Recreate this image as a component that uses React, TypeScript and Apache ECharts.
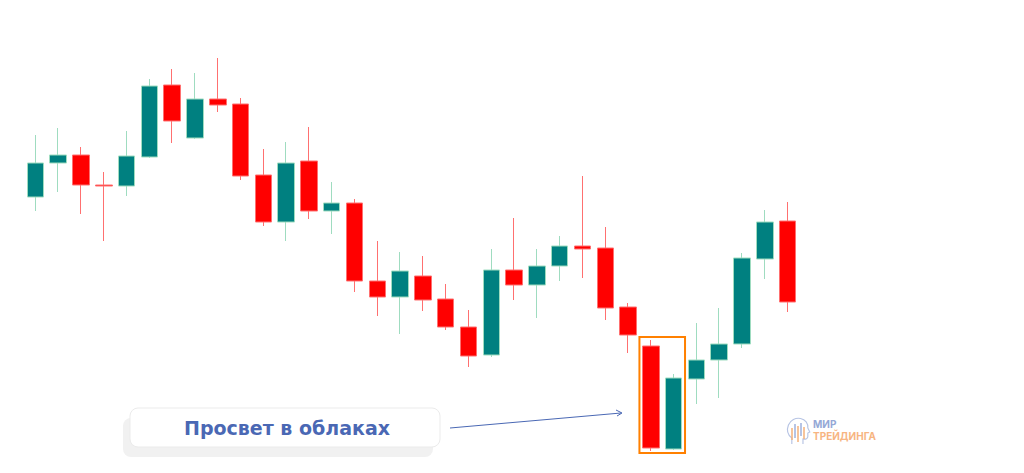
import React, { useEffect, useRef } from "react";
import * as echarts from "echarts";

// [open, close, low, high]
const categories = Array.from({ length: 34 }, (_, i) => String(i + 1));
const opens = [26.3, 29.7, 30.5, 27.5, 27.4, 30.3, 37.5, 32.2, 36.1, 35.6, 28.5, 23.8, 29.9, 24.9, 25.7, 17.9, 16.3, 18.4, 16.1, 13.3, 10.5, 19.0, 17.5, 19.4, 21.4, 21.2, 15.3, 11.4, 1.1, 8.1, 10.0, 11.6, 20.1, 23.9];
const closes = [29.7, 30.5, 27.5, 27.4, 30.4, 37.4, 33.9, 36.1, 35.5, 28.4, 23.8, 29.7, 24.9, 25.7, 17.9, 16.3, 18.9, 16.0, 13.3, 10.4, 19.0, 17.5, 19.4, 21.4, 21.1, 15.2, 12.5, 1.2, 8.2, 10.0, 11.6, 20.2, 23.8, 15.8];
const lows = [24.9, 26.8, 24.6, 21.9, 26.4, 30.2, 31.7, 32.1, 34.8, 28.0, 23.4, 21.9, 24.1, 22.6, 16.8, 14.4, 12.6, 14.9, 13.0, 9.3, 10.3, 16.0, 14.2, 17.9, 18.2, 14.0, 10.7, 0.9, 1.0, 5.6, 6.2, 11.2, 18.1, 14.8];
const highs = [32.5, 33.2, 31.3, 28.8, 32.9, 38.1, 39.1, 38.7, 40.2, 36.2, 31.1, 31.8, 33.3, 27.8, 26.1, 21.9, 20.8, 20.4, 17.6, 15.0, 21.1, 24.2, 21.1, 22.4, 28.4, 23.3, 15.7, 12.0, 8.6, 13.7, 15.2, 20.7, 25.0, 25.8];
const highlightFrom = 27; // index of first highlighted candle
const highlightTo = 28; // index of last highlighted candle
const highlightTop = 12.3;
const highlightBottom = 0.7;
const labelText = "Просвет в облаках";
const logoTop = "МИР";
const logoBottom = "ТРЕЙДИНГА";

const headPath =
  "M6 27 L6 21 C2 18 0.5 13 2.5 8 C4.5 3 10 0.5 15 1.5 C20 2.5 23 6.5 22.5 11 L24.5 15 L22.5 16 L22.5 19.5 C22.5 21.5 20.5 22.5 17.5 22 L17.5 27";
echarts.graphic.registerShape("headlogo", echarts.graphic.extendPath(headPath, {}) as any);

export default function App() {
  const ref = useRef<HTMLDivElement>(null);
  useEffect(() => {
    if (!ref.current) return;
    const chart = echarts.init(ref.current, null, { renderer: "svg" });
    const data = opens.map((o, i) => [o, closes[i], lows[i], highs[i]]);
    const blue = "#4a68b4";
    const staticGraphics: any[] = [
      {
        type: "rect",
        shape: { x: 123, y: 418, width: 310, height: 39, r: 8 },
        style: { fill: "#f1f1f1" },
        z: 10,
      },
      {
        type: "rect",
        shape: { x: 130, y: 408, width: 310, height: 39, r: 8 },
        style: { fill: "#ffffff", stroke: "#ebebeb", lineWidth: 1 },
        z: 11,
      },
      {
        type: "text",
        x: 287,
        y: 428,
        style: {
          text: labelText,
          fill: blue,
          font: "bold 19px 'DejaVu Sans', sans-serif",
          align: "center",
          verticalAlign: "middle",
        },
        z: 12,
      },
      {
        type: "line",
        shape: { x1: 450, y1: 428, x2: 621, y2: 413 },
        style: { stroke: blue, lineWidth: 1 },
        z: 12,
      },
      {
        type: "polyline",
        shape: { points: [[616, 410], [622, 413], [617, 416]] },
        style: { stroke: blue, lineWidth: 1, fill: "none" },
        z: 12,
      },
      {
        type: "headlogo",
        x: 786,
        y: 417,
        scaleX: 0.97,
        scaleY: 1.0,
        style: { fill: "none", stroke: "#b7c4e4", lineWidth: 1.2 },
        z: 12,
      },
      ...[
        [792, 428, 440, "#f5b07a"],
        [795, 424, 438, "#9fb1dc"],
        [798, 426, 442, "#f5b07a"],
        [801, 423, 436, "#9fb1dc"],
        [804, 427, 439, "#f5b07a"],
      ].map(([x, y1, y2, c]) => ({
        type: "line",
        shape: { x1: x, y1, x2: x, y2 },
        style: { stroke: c, lineWidth: 1.5 },
        z: 12,
      })),
      {
        type: "text",
        x: 813,
        y: 423.5,
        style: {
          text: logoTop,
          fill: "#95a8d6",
          font: "bold 10px Inter, sans-serif",
          verticalAlign: "middle",
        },
        z: 12,
      },
      {
        type: "text",
        x: 813,
        y: 436,
        style: {
          text: logoBottom,
          fill: "#f7b582",
          font: "bold 10px Inter, sans-serif",
          verticalAlign: "middle",
        },
        z: 12,
      },
    ];
    chart.setOption({
      animation: false,
      backgroundColor: "#ffffff",
      grid: { left: 24, right: 225, top: 50, bottom: 13 },
      xAxis: {
        type: "category",
        data: categories,
        boundaryGap: true,
        show: false,
      },
      yAxis: { type: "value", min: 0, max: 41, show: false, splitLine: { show: false } },
      series: [
        {
          type: "candlestick",
          data,
          barWidth: 17,
          itemStyle: {
            color: "#008080",
            color0: "#ff0000",
            borderColor: "#9fdcc0",
            borderColor0: "#ff7070",
            borderWidth: 1,
          },
        },
      ],
      graphic: staticGraphics,
    });
    // highlight box around the two candles, computed from the axes
    const [x0, yTop] = chart.convertToPixel({ gridIndex: 0 }, [highlightFrom, highlightTop]) as number[];
    const [x1, yBot] = chart.convertToPixel({ gridIndex: 0 }, [highlightTo, highlightBottom]) as number[];
    const [xn] = chart.convertToPixel({ gridIndex: 0 }, [highlightFrom + 1, 0]) as number[];
    const band = xn - x0;
    chart.setOption({
      graphic: [
        ...staticGraphics,
        {
          type: "rect",
          shape: {
            x: x0 - band / 2,
            y: yTop,
            width: x1 - x0 + band,
            height: yBot - yTop,
          },
          style: { fill: "none", stroke: "#ff8000", lineWidth: 2 },
          z: 12,
        },
      ],
    });
    return () => chart.dispose();
  }, []);
  return (
    <div
      ref={ref}
      style={{ position: "fixed", left: 0, top: 0, width: 1024, height: 473 }}
    />
  );
}
